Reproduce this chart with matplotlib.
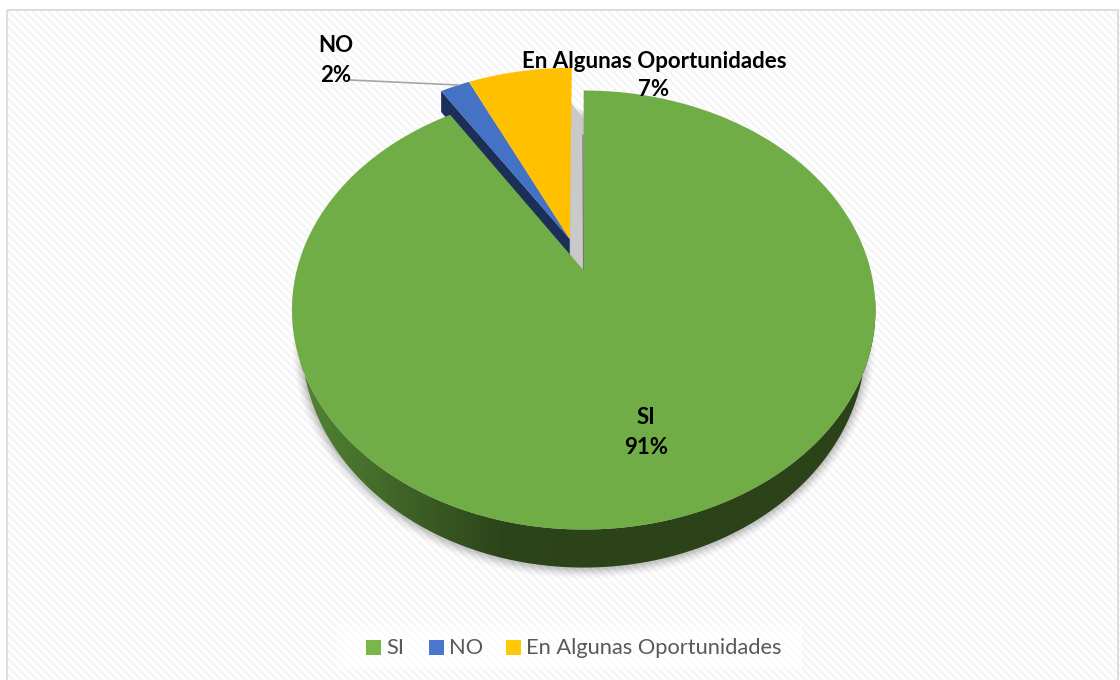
import numpy as np
import matplotlib
matplotlib.use('Agg')
import matplotlib.pyplot as plt
from matplotlib.patches import Polygon, Rectangle
from matplotlib.colors import LinearSegmentedColormap

labels = ['SI', 'NO', 'En Algunas Oportunidades']
pct = [91, 2, 7]
colors = ['#70ad47', '#4472c4', '#ffc000']
legend_colors = ['#7ab648', '#4a76cc', '#ffc90a']

W, H = 1120, 680

plt.rcParams['font.family'] = ['Lato', 'DejaVu Sans']
fig = plt.figure(figsize=(W / 100, H / 100), dpi=100)
ax = fig.add_axes([0, 0, 1, 1])
ax.set_xlim(0, W)
ax.set_ylim(H, 0)
ax.axis('off')

# striped chart background
yy, xx = np.mgrid[0:H, 0:W]
stripes = ((xx - yy) % 8 < 4).astype(float)
bg = np.ones((H, W, 3)) * 0.965 + stripes[..., None] * 0.035
bg[:9, :] = 1
bg[:, :6] = 1
ax.imshow(bg, extent=(0, W, H, 0), aspect='auto', zorder=0, interpolation='nearest')
ax.add_patch(Rectangle((6.5, 9.5), 1111, 680, fill=False, ec='#d9d9d9', lw=1.2, zorder=1))


# perspective view of the disc, u to the right, v away from the viewer
def project(u, v):
    w = 1 + 0.18 * v
    return 583.7 + 287 * u / w, 270.5 - 212.4 * v / w


# lower rim of the pie, slightly narrower than the top face
def lower_rim(px, py, v):
    return 584 + (px - 584) * 0.966, py + 31.2 / (1 + 0.18 * v)


def wedge_pts(start, end, du=0.0, dv=0.0, n=300):
    # angles in percent, clockwise from twelve o'clock
    t = np.radians(np.linspace(start, end, n) * 3.6)
    return np.sin(t) + du, np.cos(t) + dv


# soft shadow under the pie
t = np.radians(np.linspace(0, 360, 400))
sx, sy = project(np.sin(t), np.cos(t))
sx, sy = lower_rim(sx, sy, np.cos(t))
for grow, a in zip(np.arange(10, 0, -1), np.linspace(0.012, 0.05, 10)):
    cy = 340
    ax.fill(584 + (sx - 584) * (1 + grow / 282), cy + (sy - cy) * (1 + grow / 227) + 1,
            color='#404040', alpha=a, lw=0, zorder=2)

# the two small slices are pulled out from the centre
du, dv = -0.05, 0.152
no_start = pct[0]
alg_start = pct[0] + pct[1]

# dark cut face of the NO slice
u, v = wedge_pts(no_start, no_start, du, dv, 2)
ex, ey = project(np.array([u[0], du]), np.array([v[0], dv]))
ax.add_patch(Polygon(list(zip(ex, ey)) + list(zip(ex[::-1], (ey + 21)[::-1])),
                     fc='#1b2f58', ec='none', zorder=3))

# grey shadow in the gap next to the yellow slice
ax.add_patch(Polygon([(571, 103), (582, 116), (583.5, 271), (571, 256)],
                     fc='#c9c9c9', ec='none', zorder=3))
ax.plot([583, 583.5], [135, 271], color='#6b6b6b', lw=0.8, zorder=3)

for start, val, col in [(no_start, pct[1], colors[1]), (alg_start, pct[2], colors[2])]:
    u, v = wedge_pts(start, start + val, du, dv)
    px, py = project(u, v)
    ax0, ay0 = project(du, dv)
    ax.add_patch(Polygon(np.column_stack([np.r_[ax0, px], np.r_[ay0, py]]),
                         fc=col, ec='none', zorder=4))

# green rim, lighter on the left and dark from the front to the right
u, v = wedge_pts(0, pct[0], n=500)
px, py = project(u, v)
bx, by = lower_rim(px, py, v)
rim_cmap = LinearSegmentedColormap.from_list('rim', ['#538536', '#3f6427', '#2d451b', '#2c431a'])
rim = Polygon(np.column_stack([np.r_[px, bx[::-1]], np.r_[py, by[::-1]]]), fc='none', ec='none')
ax.add_patch(rim)
grad = np.linspace(0, 1, 300)[None, :]
im = ax.imshow(grad, extent=(300, 600, 600, 300), cmap=rim_cmap, aspect='auto', zorder=5)
im.set_clip_path(rim)
im2 = ax.imshow(np.ones((2, 2)), extent=(600, 880, 600, 300), cmap=rim_cmap, vmin=0, vmax=1,
                aspect='auto', zorder=5)
im2.set_clip_path(rim)
ax.set_xlim(0, W)
ax.set_ylim(H, 0)

ax0, ay0 = project(0, 0)
ax.add_patch(Polygon(np.column_stack([np.r_[ax0, px], np.r_[ay0, py]]),
                     fc=colors[0], ec='none', zorder=6))

# data labels
lab_font = dict(fontsize=16, fontweight='bold', color='black', ha='center', va='center', zorder=8)
ax.text(646, 418, labels[0], **lab_font)
ax.text(646, 448, '%d%%' % pct[0], **lab_font)
ax.text(336, 45, labels[1], **lab_font)
ax.text(336, 75, '%d%%' % pct[1], **lab_font)
ax.text(654, 61, labels[2], **lab_font)
ax.text(654, 90, '%d%%' % pct[2], **lab_font)
ax.plot([350, 458], [80, 85], color='#a6a6a6', lw=1.2, zorder=7)

# legend
ax.add_patch(Rectangle((337, 625), 465, 45, fc='white', ec='none', alpha=0.6, zorder=7))
for x0, tx, name, col in zip([366, 429, 506], [386, 449, 526], labels, legend_colors):
    ax.add_patch(Rectangle((x0, 640), 15, 14.5, fc=col, ec='none', zorder=8))
    ax.text(tx, 648, name, fontsize=15.75, color='#595959', ha='left', va='center', zorder=8)

fig.savefig('out.png', dpi=100)
